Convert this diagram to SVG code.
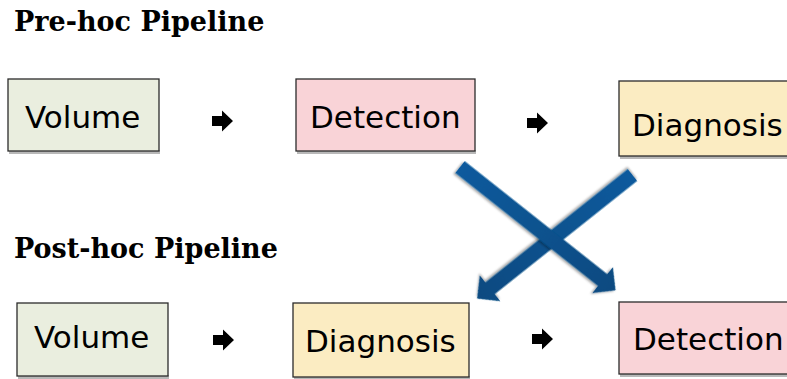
<svg xmlns="http://www.w3.org/2000/svg" xmlns:xlink="http://www.w3.org/1999/xlink" width="787" height="379" viewBox="0 0 787 379">
<style>
.title{font-family:"DejaVu Serif","Liberation Serif",serif;font-weight:bold;font-size:27px;fill:#000}
.lbl{font-family:"DejaVu Sans","Liberation Sans",sans-serif;font-size:31px;fill:#000}
.box{stroke:#2b2b2b;stroke-width:1.3}
.shadow{fill:#b8b8b8}
.vol{fill:#eaeedf}
.det{fill:#f9d3d7}
.dia{fill:#fbecc2}
.small{fill:#000}
</style>
<defs>
<path id="sa" d="M0,-5 H10 V-10.5 L21,0 L10,10.5 V5 H0 Z"/>
<linearGradient id="bg" x1="0" y1="0" x2="1" y2="0">
<stop offset="0" stop-color="#0b5a9d"/>
<stop offset="1" stop-color="#074a80"/>
</linearGradient>
<filter id="ds" x="-10%" y="-30%" width="120%" height="160%">
<feDropShadow dx="-1" dy="2" stdDeviation="1.2" flood-color="#000" flood-opacity="0.35"/>
</filter>
<path id="big" d="M0,-7.5 H182 V-16.5 L198.5,0 L182,16.5 V7.5 H0 Z"/>
</defs>

<text class="title" x="14" y="31">Pre-hoc Pipeline</text>
<text class="title" x="14" y="258">Post-hoc Pipeline</text>

<g id="pre-volume">
<rect class="shadow" x="9" y="150" width="151" height="4"/>
<rect class="box vol" x="8" y="79" width="151" height="72"/>
<text class="lbl" x="25" y="128">Volume</text>
</g>
<g id="pre-detection">
<rect class="shadow" x="297" y="150" width="179" height="4"/>
<rect class="box det" x="296" y="79" width="179" height="72"/>
<text class="lbl" x="310" y="128">Detection</text>
</g>
<g id="pre-diagnosis">
<rect class="shadow" x="620" y="155" width="180" height="4"/>
<rect class="box dia" x="619" y="81" width="180" height="75"/>
<text class="lbl" x="632" y="136">Diagnosis</text>
</g>

<g id="post-volume">
<rect class="shadow" x="18" y="375" width="151" height="4"/>
<rect class="box vol" x="17" y="303" width="151" height="73"/>
<text class="lbl" x="34" y="348">Volume</text>
</g>
<g id="post-diagnosis">
<rect class="shadow" x="294" y="376" width="176" height="4"/>
<rect class="box dia" x="293" y="303" width="176" height="74"/>
<text class="lbl" x="305" y="352">Diagnosis</text>
</g>
<g id="post-detection">
<rect class="shadow" x="620" y="373" width="180" height="4"/>
<rect class="box det" x="619" y="302" width="180" height="72"/>
<text class="lbl" x="633" y="350">Detection</text>
</g>

<g id="connectors">
<use href="#sa" xlink:href="#sa" class="small" transform="translate(212,121)"/>
<use href="#sa" xlink:href="#sa" class="small" transform="translate(527,123)"/>
<use href="#sa" xlink:href="#sa" class="small" transform="translate(213,340)"/>
<use href="#sa" xlink:href="#sa" class="small" transform="translate(532,339)"/>
<use href="#big" xlink:href="#big" fill="url(#bg)" filter="url(#ds)" transform="translate(632.5,175) rotate(141.5)"/>
<use href="#big" xlink:href="#big" fill="url(#bg)" filter="url(#ds)" transform="translate(460,167) rotate(38.4)"/>
</g>
</svg>
